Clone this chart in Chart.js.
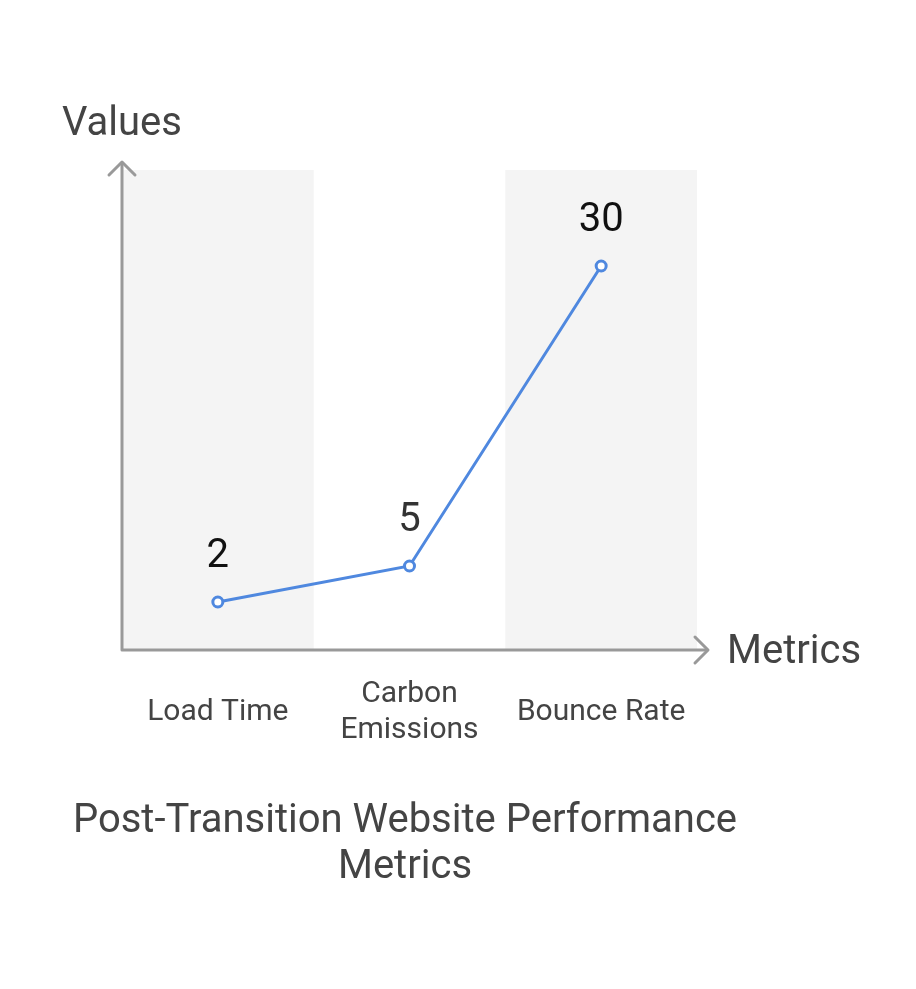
<!DOCTYPE html>
<html>
<head>
<meta charset="utf-8">
<script src="https://cdn.jsdelivr.net/npm/chart.js@4.4.1/dist/chart.umd.min.js"></script>
<style>
  html, body { margin: 0; padding: 0; background: #fff; }
  #wrap { width: 916px; height: 989px; position: relative; }
</style>
</head>
<body>
<div id="wrap"><canvas id="chart"></canvas></div>
<script>
// chart data
const categories = [["Load Time"], ["Carbon", "Emissions"], ["Bounce Rate"]];
const values = [2, 5, 30];
const labelColors = ["#111111", "#333333", "#111111"];
const titleLines = ["Post-Transition Website Performance", "Metrics"];

const FONT = "Roboto, 'Noto Sans', sans-serif";

// bands, axes with arrows, value labels and texts
const decor = {
  id: 'decor',
  beforeDatasetsDraw(chart) {
    const { ctx, chartArea: a, scales: { x } } = chart;
    const step = x.getPixelForValue(1) - x.getPixelForValue(0);
    ctx.save();
    ctx.fillStyle = '#f4f4f4';
    categories.forEach((c, i) => {
      if (i % 2 === 0) {
        const cx = x.getPixelForValue(i);
        ctx.fillRect(cx - step / 2, a.top, step, a.bottom - a.top);
      }
    });
    // axes
    ctx.strokeStyle = '#999999';
    ctx.lineWidth = 3;
    ctx.lineCap = 'round';
    ctx.lineJoin = 'round';
    ctx.beginPath();
    ctx.moveTo(a.left, a.top - 7);
    ctx.lineTo(a.left, a.bottom);
    ctx.lineTo(a.right + 10, a.bottom);
    ctx.stroke();
    ctx.beginPath();
    ctx.moveTo(a.left - 13, a.top + 5);
    ctx.lineTo(a.left, a.top - 8);
    ctx.lineTo(a.left + 13, a.top + 5);
    ctx.moveTo(a.right - 2, a.bottom - 13);
    ctx.lineTo(a.right + 11, a.bottom);
    ctx.lineTo(a.right - 2, a.bottom + 13);
    ctx.stroke();
    ctx.restore();
  },
  afterDatasetsDraw(chart) {
    const { ctx, chartArea: a, scales: { x, y } } = chart;
    ctx.save();
    ctx.textAlign = 'center';
    ctx.textBaseline = 'middle';
    // value labels
    ctx.font = '40px ' + FONT;
    values.forEach((v, i) => {
      ctx.fillStyle = labelColors[i];
      ctx.fillText(String(v), x.getPixelForValue(i), y.getPixelForValue(v) - 45);
    });
    // category labels
    ctx.font = '30px ' + FONT;
    ctx.fillStyle = '#444444';
    categories.forEach((lines, i) => {
      const cx = x.getPixelForValue(i);
      const h = 36;
      const top = a.bottom + 62 - (lines.length - 1) * h / 2;
      lines.forEach((l, j) => ctx.fillText(l, cx, top + j * h));
    });
    // axis titles
    ctx.font = '40px ' + FONT;
    ctx.textAlign = 'left';
    ctx.fillText('Values', 62, a.top - 45);
    ctx.fillText('Metrics', a.right + 30, a.bottom + 3);
    // chart title
    ctx.textAlign = 'center';
    titleLines.forEach((l, j) => ctx.fillText(l, 405, 822 + j * 46));
    ctx.restore();
  }
};

new Chart(document.getElementById('chart'), {
  type: 'line',
  data: {
    labels: categories,
    datasets: [{
      data: values,
      borderColor: '#4f88df',
      borderWidth: 3,
      pointRadius: 5,
      pointBorderWidth: 3,
      pointBackgroundColor: '#ffffff',
      pointBorderColor: '#4f88df',
      tension: 0
    }]
  },
  options: {
    responsive: true,
    maintainAspectRatio: false,
    animation: false,
    layout: { padding: { left: 122, right: 219, top: 170, bottom: 339 } },
    plugins: { legend: { display: false }, tooltip: { enabled: false } },
    scales: {
      x: { display: false, offset: true },
      y: { display: false, min: -2, max: 38 }
    }
  },
  plugins: [decor]
});
</script>
</body>
</html>
